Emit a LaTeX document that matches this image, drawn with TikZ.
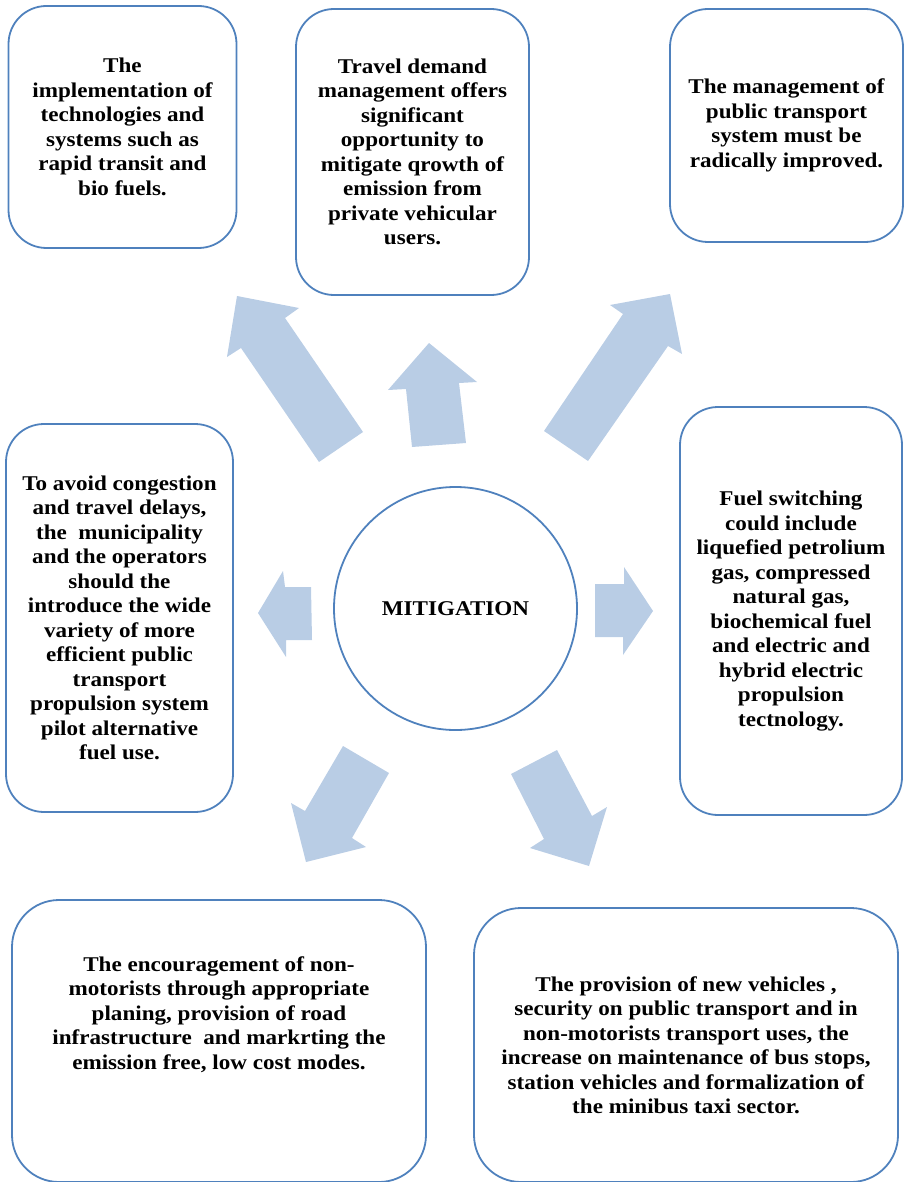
\documentclass[tikz,border=0pt]{standalone}
\usepackage{fontspec}
\setmainfont{Liberation Serif}[FakeStretch=1.1]
\usetikzlibrary{positioning}
\definecolor{frameblue}{RGB}{79,129,189}
\definecolor{arrowblue}{RGB}{185,205,229}

\begin{document}
\begin{tikzpicture}[x=1pt,y=-1pt,
  font=\bfseries\fontsize{21}{24.5}\selectfont,
  card/.style={draw=frameblue,line width=1.8pt,rounded corners=38pt,align=center,inner sep=0pt},
  widecard/.style={card,rounded corners=47pt},
  blockarrow/.style={fill=arrowblue}]
\useasboundingbox (0,0) rectangle (903,1182);

% centre
\node[draw=frameblue,line width=1.8pt,circle,minimum size=243pt,inner sep=0pt] (mit) at (455.5,608.5) {MITIGATION};

% boxes round the centre
\node[card,minimum width=228,minimum height=242] (tech) at (122.5,127) {The\\implementation of\\technologies and\\systems such as\\rapid transit and\\bio fuels.};
\node[card,minimum width=233,minimum height=286] (demand) at (412.5,152) {Travel demand\\management offers\\significant\\opportunity to\\mitigate qrowth of\\emission from\\private vehicular\\users.};
\node[card,minimum width=233,minimum height=233] (manage) at (786.5,125.5) {The management of\\public transport\\system must be\\radically improved.};
\node[card,minimum width=227,minimum height=388] (congest) at (119.5,618) {To avoid congestion\\and travel delays,\\the\ \ municipality\\and the operators\\should the\\introduce the wide\\variety of more\\efficient public\\transport\\propulsion system\\pilot alternative\\fuel use.};
\node[card,minimum width=222,minimum height=408] (fuel) at (791,611) {Fuel switching\\could include\\liquefied petrolium\\gas, compressed\\natural gas,\\biochemical fuel\\and electric and\\hybrid electric\\propulsion\\tectnology.};
\node[widecard,minimum width=414,minimum height=282] (nonmotor) at (219,1041) {The encouragement of non-\\motorists through appropriate\\planing, provision of road\\infrastructure\ \ and markrting the\\emission free, low cost modes.\\[32pt]};
\node[widecard,minimum width=424,minimum height=274] (vehicles) at (686,1045) {The provision of new vehicles ,\\security on public transport and in\\non-motorists transport uses, the\\increase on maintenance of bus stops,\\station vehicles and formalization of\\the minibus taxi sector.};

% block arrows pointing out of the circle
\fill[blockarrow] (237,296) -- (299,308) -- (285,318) -- (363,432) -- (319,462) -- (241,348) -- (227,357) -- cycle;
\fill[blockarrow] (429,343) -- (477,382) -- (459,383) -- (466,443) -- (412,447) -- (406,389) -- (388,390) -- cycle;
\fill[blockarrow] (670,294) -- (682,354) -- (668,346) -- (588,461) -- (544,431) -- (623,314) -- (610,305) -- cycle;
\fill[blockarrow] (258,613) -- (283,571) -- (285,587) -- (311,587) -- (312,640) -- (286,640) -- (286,657) -- cycle;
\fill[blockarrow] (653,611) -- (624,567) -- (624,584) -- (595,584) -- (595,637) -- (623,637) -- (623,655) -- cycle;
\fill[blockarrow] (306,862) -- (291,803) -- (305,811) -- (343,746) -- (389,773) -- (352,838) -- (366,847) -- cycle;
\fill[blockarrow] (589,866) -- (530,848) -- (544,839) -- (511,774) -- (557,750) -- (592,816) -- (607,807) -- cycle;
\end{tikzpicture}
\end{document}
